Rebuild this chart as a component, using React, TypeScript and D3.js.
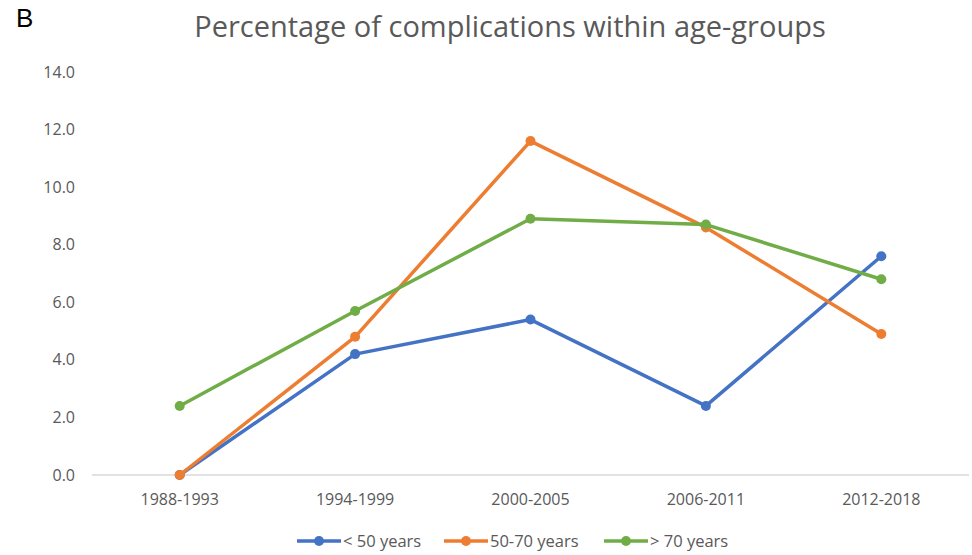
import React from "react";
import * as d3 from "d3";

const categories = ["1988-1993", "1994-1999", "2000-2005", "2006-2011", "2012-2018"];
const under50 = [0.0, 4.2, 5.4, 2.4, 7.6];
const from50to70 = [0.0, 4.8, 11.6, 8.6, 4.9];
const over70 = [2.4, 5.7, 8.9, 8.7, 6.8];
const yTicks = [0, 2, 4, 6, 8, 10, 12, 14];
const seriesNames = ["< 50 years", "50-70 years", "> 70 years"];
const seriesColors = ["#4472C4", "#ED7D31", "#70AD47"];

const W = 972;
const H = 555;
const FONT = "'Open Sans', Lato, sans-serif";

export default function App() {
  const x = d3.scalePoint<string>().domain(categories).range([92, 969]).padding(0.5);
  const y = d3.scaleLinear().domain([0, 14]).range([475, 72]);
  const line = d3
    .line<number>()
    .x((_, i) => x(categories[i]) as number)
    .y((d) => y(d));
  const series = [under50, from50to70, over70];
  const legendX = [297, 444, 604];

  return (
    <svg
      width={W}
      height={H}
      style={{ position: "absolute", left: 0, top: 0, background: "#fff" }}
      fontFamily={FONT}
    >
      <text x={16} y={27} fontSize={26} fontFamily="Arial, Liberation Sans, sans-serif" fill="#000">
        B
      </text>
      <text x={510} y={37} textAnchor="middle" fontSize={29} fill="#595959">
        Percentage of complications within age-groups
      </text>
      {yTicks.map((t) => (
        <text key={t} x={75} y={y(t) + 5.5} textAnchor="end" fontSize={16} fill="#595959">
          {t.toFixed(1)}
        </text>
      ))}
      <line x1={92} x2={969} y1={y(0)} y2={y(0)} stroke="#d9d9d9" strokeWidth={1.5} />
      {categories.map((c) => (
        <text key={c} x={x(c)} y={505} textAnchor="middle" fontSize={16} fill="#595959">
          {c}
        </text>
      ))}
      {series.map((s, si) => (
        <g key={si}>
          <path d={line(s) || ""} fill="none" stroke={seriesColors[si]} strokeWidth={3.5} strokeLinejoin="round" />
          {s.map((v, i) => (
            <circle key={i} cx={x(categories[i])} cy={y(v)} r={5} fill={seriesColors[si]} />
          ))}
        </g>
      ))}
      {seriesNames.map((n, i) => (
        <g key={n}>
          <line x1={legendX[i]} x2={legendX[i] + 44} y1={541} y2={541} stroke={seriesColors[i]} strokeWidth={3.5} />
          <circle cx={legendX[i] + 22} cy={541} r={5} fill={seriesColors[i]} />
          <text x={legendX[i] + 46} y={547} fontSize={16.5} fill="#595959">
            {n}
          </text>
        </g>
      ))}
    </svg>
  );
}
